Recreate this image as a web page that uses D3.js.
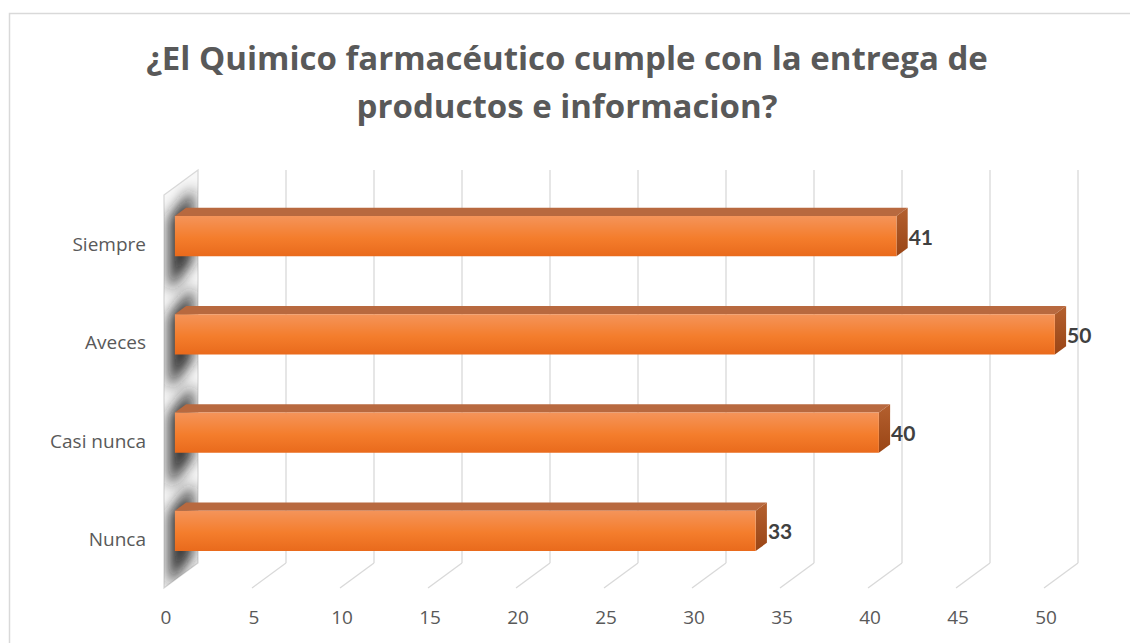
<!DOCTYPE html>
<meta charset="utf-8">
<head>
  <title>Quimico farmaceutico</title>
</head>

<style>
body {
  margin: 0;
  background: #fff;
}

svg text {
  font-family: "Open Sans", Lato, sans-serif;
}

.title {
  font-size: 33px;
  font-weight: bold;
  fill: #595959;
}

.cat-label, .tick-label {
  font-size: 19px;
  fill: #595959;
}

.value-label {
  font-family: Lato, sans-serif;
  font-size: 21px;
  font-weight: bold;
  fill: #404040;
}

.grid line {
  stroke: #d9d9d9;
  stroke-width: 1.3;
}
</style>

<body>
  <svg width="1130" height="643"></svg>

  <script src="https://cdnjs.cloudflare.com/ajax/libs/d3/7.8.5/d3.min.js"></script>

  <script>
var titleLines = ['¿El Quimico farmacéutico cumple con la entrega de', 'productos e informacion?'];
var categories = ['Siempre', 'Aveces', 'Casi nunca', 'Nunca'];
var values = [41, 50, 40, 33];
var ticks = [0, 5, 10, 15, 20, 25, 30, 35, 40, 45, 50];

// depth offset of the 3d box (back plane relative to front plane)
var DX = 34, DY = -25;
var barD0 = 0.32, barD1 = 0.65;

var svg = d3.select('svg');

var x = d3.scaleLinear()
  .domain([0, 50])
  .range([164, 1044]);

var y = d3.scaleBand()
  .domain(categories)
  .range([195, 588])
  .paddingInner(0.59)
  .paddingOuter(0.295);

function P(v, yy, d) {
  return [x(v) + DX * d, yy + DY * d];
}

function poly(pts) {
  return 'M' + pts.map(function(p) { return p[0] + ',' + p[1]; }).join('L') + 'Z';
}

var yTop = y.range()[0], yBottom = y.range()[1];

// outer chart border
svg.append('rect')
  .attr('x', 9.5).attr('y', 13.5)
  .attr('width', 1140).attr('height', 660)
  .attr('fill', 'none')
  .attr('stroke', '#d9d9d9')
  .attr('stroke-width', 1.5);

var defs = svg.append('defs');

var front = defs.append('linearGradient')
  .attr('id', 'barFront')
  .attr('x1', 0).attr('y1', 0).attr('x2', 0).attr('y2', 1);
front.append('stop').attr('offset', '0%').attr('stop-color', '#f4945a');
front.append('stop').attr('offset', '55%').attr('stop-color', '#f47d2c');
front.append('stop').attr('offset', '100%').attr('stop-color', '#e96a1c');

var side = defs.append('linearGradient')
  .attr('id', 'barSide')
  .attr('x1', 0).attr('y1', 0).attr('x2', 0).attr('y2', 1);
side.append('stop').attr('offset', '0%').attr('stop-color', '#b4602f');
side.append('stop').attr('offset', '100%').attr('stop-color', '#9a4515');

defs.append('filter')
  .attr('id', 'blur')
  .attr('x', '-50%').attr('y', '-50%').attr('width', '200%').attr('height', '200%')
  .append('feGaussianBlur')
  .attr('stdDeviation', 7);

var wallPts = [P(0, yTop, 0), P(0, yTop, 1), P(0, yBottom, 1), P(0, yBottom, 0)];

defs.append('clipPath')
  .attr('id', 'wallClip')
  .append('path')
  .attr('d', poly(wallPts));

// Side wall
svg.append('path')
  .attr('d', poly(wallPts))
  .attr('fill', '#f7f7f7')
  .attr('stroke', '#d9d9d9')
  .attr('stroke-width', 1.3);

// Shadows of the bars on the side wall
svg.append('g')
  .attr('clip-path', 'url(#wallClip)')
  .selectAll('path')
  .data(categories)
  .join('path')
  .attr('d', function(c) {
    var y0 = y(c), y1 = y(c) + y.bandwidth();
    return poly([
      [x(0) + 5, y0 - 6],
      [x(0) + DX - 5, y0 - 36],
      [x(0) + DX - 5, y1 - 4],
      [x(0) + 5, y1 + 28]
    ]);
  })
  .attr('fill', '#1a1a1a')
  .attr('opacity', 0.9)
  .attr('filter', 'url(#blur)');

// Gridlines (back wall + floor)
var grid = svg.append('g').attr('class', 'grid');
grid.selectAll('line.back')
  .data(ticks.slice(1))
  .join('line')
  .attr('class', 'back')
  .attr('x1', function(t) { return P(t, yTop, 1)[0]; })
  .attr('y1', function(t) { return P(t, yTop, 1)[1]; })
  .attr('x2', function(t) { return P(t, yBottom, 1)[0]; })
  .attr('y2', function(t) { return P(t, yBottom, 1)[1]; });

grid.selectAll('line.floor')
  .data(ticks.slice(1))
  .join('line')
  .attr('class', 'floor')
  .attr('x1', function(t) { return P(t, yBottom, 1)[0]; })
  .attr('y1', function(t) { return P(t, yBottom, 1)[1]; })
  .attr('x2', function(t) { return P(t, yBottom, 0)[0]; })
  .attr('y2', function(t) { return P(t, yBottom, 0)[1]; });

// Bars
var bars = svg.append('g')
  .selectAll('g')
  .data(categories)
  .join('g');

bars.append('path')
  .attr('d', function(c, i) {
    var y0 = y(c);
    return poly([P(0, y0, barD0), P(values[i], y0, barD0), P(values[i], y0, barD1), P(0, y0, barD1)]);
  })
  .attr('fill', '#b8693f');

bars.append('path')
  .attr('d', function(c, i) {
    var y0 = y(c), y1 = y(c) + y.bandwidth(), v = values[i];
    return poly([P(v, y0, barD0), P(v, y0, barD1), P(v, y1, barD1), P(v, y1, barD0)]);
  })
  .attr('fill', 'url(#barSide)');

bars.append('path')
  .attr('d', function(c, i) {
    var y0 = y(c), y1 = y(c) + y.bandwidth(), v = values[i];
    return poly([P(0, y0, barD0), P(v, y0, barD0), P(v, y1, barD0), P(0, y1, barD0)]);
  })
  .attr('fill', 'url(#barFront)');

// Value labels
bars.append('text')
  .attr('class', 'value-label')
  .attr('x', function(c, i) { return P(values[i], 0, barD1)[0] + 1; })
  .attr('y', function(c) { return P(0, y(c) + y.bandwidth() / 2, barD0)[1] + 3; })
  .attr('dominant-baseline', 'middle')
  .text(function(c, i) { return values[i]; });

// Category labels
svg.append('g')
  .selectAll('text')
  .data(categories)
  .join('text')
  .attr('class', 'cat-label')
  .attr('x', 146)
  .attr('y', function(c) { return y(c) + y.bandwidth() / 2 + 2; })
  .attr('text-anchor', 'end')
  .attr('dominant-baseline', 'middle')
  .text(function(c) { return c; });

// Tick labels
svg.append('g')
  .selectAll('text')
  .data(ticks)
  .join('text')
  .attr('class', 'tick-label')
  .attr('x', function(t) { return x(t) + 2; })
  .attr('y', 619)
  .attr('text-anchor', 'middle')
  .attr('dominant-baseline', 'middle')
  .text(function(t) { return t; });

// Title
svg.append('g')
  .selectAll('text')
  .data(titleLines)
  .join('text')
  .attr('class', 'title')
  .attr('x', 567)
  .attr('y', function(d, i) { return 61 + i * 48; })
  .attr('text-anchor', 'middle')
  .attr('dominant-baseline', 'middle')
  .text(function(d) { return d; });
  </script>
</body>
</html>
